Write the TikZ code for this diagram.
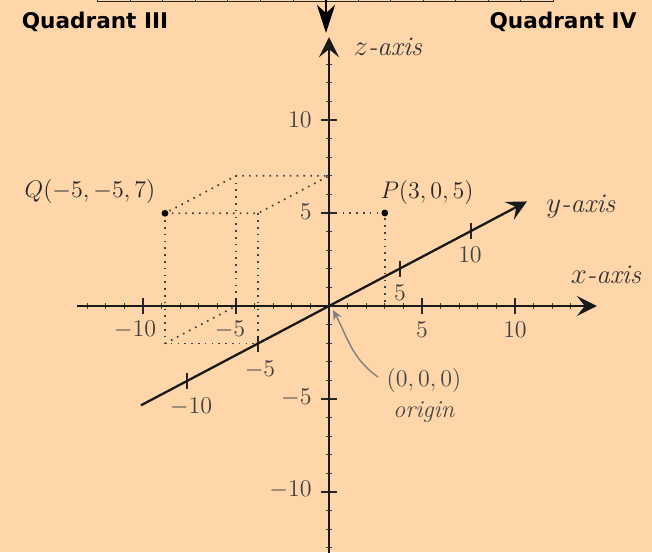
\documentclass[tikz,border=0pt]{standalone}
\usepackage{fontspec}
\newfontfamily\quadfont{DejaVu Sans}
\usetikzlibrary{arrows.meta}
\definecolor{bgpeach}{RGB}{255,214,170}
\begin{document}
\begin{tikzpicture}[
  x={(9.3pt,0pt)}, y={(7.1pt,3.75pt)}, z={(0pt,9.3pt)},
  axisline/.style={line width=1.15pt, black!90, -{Stealth[length=10pt,width=10pt,inset=4pt]}},
  minortick/.style={line width=0.5pt, black!75},
  majortick/.style={line width=1pt, black!85},
  ticklabel/.style={font=\fontsize{11.5}{13}\selectfont, text=black!75, inner sep=0pt},
  ptlabel/.style={font=\fontsize{12.2}{14}\selectfont, text=black!85, inner sep=0pt},
  axislabel/.style={font=\fontsize{13.5}{15}\selectfont, text=black!80, inner sep=0pt},
  quadlabel/.style={font={\quadfont\bfseries\fontsize{10.8}{12}\selectfont}, inner sep=0pt},
  guide/.style={line width=0.85pt, black!75, dash pattern=on 0.8pt off 2.6pt},
  ptdot/.style={circle, fill=black, inner sep=0pt, minimum size=3.4pt}
]
\fill[bgpeach] (-164.5pt,-123pt) rectangle (161.5pt,153pt);
\useasboundingbox (-164.5pt,-123pt) rectangle (161.5pt,153pt);

% top ruler fragment
\coordinate (rs) at (-115.5pt,152.1pt);
\coordinate (re) at (112pt,152.1pt);
\draw[line width=0.6pt, black!85] (rs) -- (re);
\foreach \k in {0,...,14} \draw[line width=0.5pt, black!85] ([xshift=\k*16.25pt]rs) -- ++(0pt,1.2pt);
\coordinate (ta) at (-1.5pt,153pt);
\coordinate (tb) at (-1.5pt,136.5pt);
\draw[line width=1.2pt, black, -{Stealth[length=14pt,width=9pt,inset=4pt]}] (ta) -- (tb);

% quadrant labels
\node[quadlabel] (q3) at (-117pt,142pt) {Quadrant III};
\node[quadlabel] (q4) at (117pt,142pt) {Quadrant IV};

% axes end points
\coordinate (O) at (0,0,0);
\coordinate (xs) at (-13.55,0,0);
\coordinate (xe) at (14.4,0,0);
\coordinate (ys) at (0,-13.24,0);
\coordinate (ye) at (0,13.94,0);
\coordinate (zs) at (0,0,-13.8);
\coordinate (ze) at (0,0,14.45);

% guide lines
\coordinate (P) at (3,0,5);
\coordinate (Q) at (-5,-5,7);
\coordinate (b1) at (0,-5,7);
\coordinate (b2) at (0,0,7);
\coordinate (b3) at (-5,0,7);
\coordinate (b4) at (-5,-5,0);
\coordinate (b5) at (0,-5,0);
\coordinate (b6) at (-5,0,0);
\coordinate (pz) at (0,0,5);
\coordinate (px) at (3,0,0);
\draw[guide] (pz) -- (P) -- (px);
\draw[guide] (Q) -- (b1) -- (b2) -- (b3) -- (Q);
\draw[guide] (Q) -- (b4) -- (b5);
\draw[guide] (b4) -- (b6);
\draw[guide] (b1) -- (b5);
\draw[guide] (b3) -- (b6);

% ticks
\foreach \i in {-13,...,13} \draw[minortick] (\i,0,0) ++(0pt,-1.6pt) -- ++(0pt,3.2pt);
\foreach \i in {-13,...,13} \draw[minortick] (0,0,\i) ++(-1.6pt,0pt) -- ++(3.2pt,0pt);
\foreach \i in {-10,-5,5,10} {
  \draw[majortick] (\i,0,0) ++(0pt,-4pt) -- ++(0pt,8pt);
  \draw[majortick] (0,0,\i) ++(-4pt,0pt) -- ++(8pt,0pt);
  \draw[majortick] (0,\i,0) ++(0pt,-4pt) -- ++(0pt,8pt);
}

% axes
\draw[axisline] (xs) -- (xe);
\draw[axisline] (ys) -- (ye);
\draw[axisline] (zs) -- (ze);

% tick labels
\node[ticklabel] (xl1) at (46.5pt,-12pt) {$5$};
\node[ticklabel] (xl2) at (93pt,-12pt) {$10$};
\node[ticklabel] (xl3) at (-49.5pt,-12pt) {$-5$};
\node[ticklabel] (xl4) at (-97pt,-12pt) {$-10$};
\node[ticklabel, anchor=east] (zl1) at (-8.5pt,93pt) {$10$};
\node[ticklabel, anchor=east] (zl2) at (-8.5pt,47pt) {$5$};
\node[ticklabel, anchor=east] (zl3) at (-8.5pt,-46pt) {$-5$};
\node[ticklabel, anchor=east] (zl4) at (-8.5pt,-92pt) {$-10$};
\node[ticklabel] (yl1) at (35.5pt,6.5pt) {$5$};
\node[ticklabel] (yl2) at (70.5pt,25.5pt) {$10$};
\node[ticklabel] (yl3) at (-34.5pt,-32pt) {$-5$};
\node[ticklabel] (yl4) at (-69pt,-50.5pt) {$-10$};

% axis labels
\node[axislabel] (zlab) at (29.5pt,129.5pt) {$z$\textit{-axis}};
\node[axislabel] (ylab) at (126pt,49.5pt) {$y$\textit{-axis}};
\node[axislabel] (xlab) at (138.5pt,15.5pt) {$x$\textit{-axis}};

% points
\node[ptdot] (Pd) at (P) {};
\node[ptdot] (Qd) at (Q) {};
\node[ptlabel] (Plab) at (49pt,57pt) {$P(3,0,5)$};
\node[ptlabel] (Qlab) at (-119.5pt,57.5pt) {$Q(-5,-5,7)$};

% origin
\node[ptlabel, text=black!72] (olab1) at (47.5pt,-37pt) {$(0,0,0)$};
\node[ptlabel, text=black!72] (olab2) at (47.5pt,-53pt) {\textit{origin}};
\coordinate (oa) at (24.5pt,-35.5pt);
\coordinate (ob) at (2pt,-2pt);
\draw[black!50, line width=0.7pt, -{Stealth[length=5pt,width=4.5pt]}] (oa) to[out=145,in=-62] (ob);
\end{tikzpicture}
\end{document}
